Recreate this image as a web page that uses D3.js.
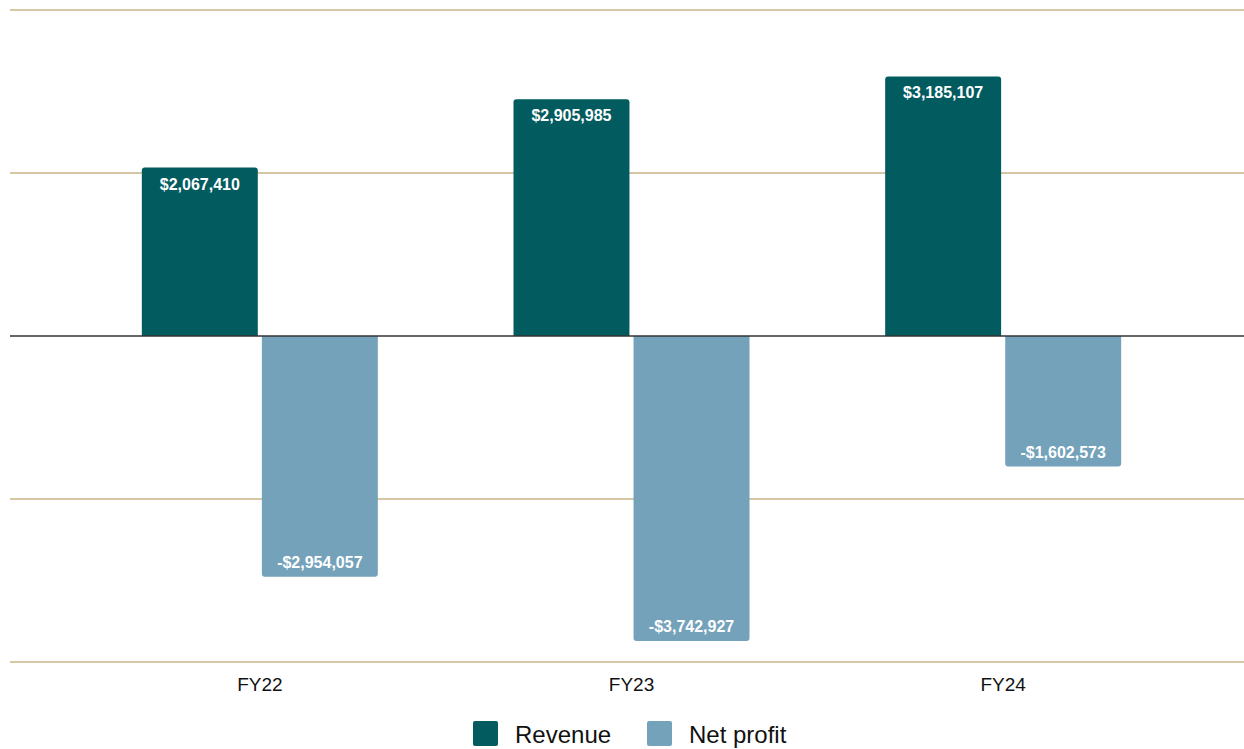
<!DOCTYPE html>
<html>
<head>
<meta charset="utf-8">
<script src="https://cdn.jsdelivr.net/npm/d3@7"></script>
<style>
  html, body { margin: 0; padding: 0; background: #fff; }
  svg { display: block; font-family: "Liberation Sans", Arial, sans-serif; }
</style>
</head>
<body>
<div id="chart"></div>
<script>
// chart data
const years = ['FY22', 'FY23', 'FY24'];
const seriesNames = ['Revenue', 'Net profit'];
const revenue = [2067410, 2905985, 3185107];
const netProfit = [-2954057, -3742927, -1602573];
const gridTicks = [-4000000, -2000000, 0, 2000000, 4000000];

const width = 1244;
const height = 749;
const REV_COLOR = '#025b5f';
const NET_COLOR = '#73a2ba';
const GRID = '#d5c6a6';

const svg = d3.select('#chart').append('svg')
  .attr('width', width)
  .attr('height', height);

const x0 = d3.scaleBand()
  .domain(years)
  .range([74, 1189])
  .paddingInner(0.365)
  .paddingOuter(0.1825);

const x1 = d3.scaleBand()
  .domain(seriesNames)
  .range([0, x0.bandwidth()])
  .paddingInner(0.034);

const y = d3.scaleLinear()
  .domain([-4000000, 4000000])
  .range([662, 10]);

const color = d3.scaleOrdinal().domain(seriesNames).range([REV_COLOR, NET_COLOR]);
const fmt = v => (v < 0 ? '-$' : '$') + d3.format(',')(Math.abs(v));

// gridlines
svg.append('g')
  .selectAll('line')
  .data(gridTicks.filter(d => d !== 0))
  .enter()
  .append('line')
  .attr('x1', 10)
  .attr('x2', width)
  .attr('y1', d => y(d))
  .attr('y2', d => y(d))
  .attr('stroke', GRID)
  .attr('stroke-width', 2);

// bar with rounded end away from the baseline
const barPath = (x, w, v) => {
  const r = 3;
  const y0 = y(0);
  const y1 = y(v);
  if (v >= 0) {
    return `M${x},${y0}V${y1 + r}Q${x},${y1} ${x + r},${y1}H${x + w - r}Q${x + w},${y1} ${x + w},${y1 + r}V${y0}Z`;
  }
  return `M${x},${y0}V${y1 - r}Q${x},${y1} ${x + r},${y1}H${x + w - r}Q${x + w},${y1} ${x + w},${y1 - r}V${y0}Z`;
};

const rows = years.map((yr, i) => ({
  year: yr,
  values: [
    { key: 'Revenue', value: revenue[i] },
    { key: 'Net profit', value: netProfit[i] }
  ]
}));

const groups = svg.append('g')
  .selectAll('g')
  .data(rows)
  .enter()
  .append('g')
  .attr('transform', d => `translate(${x0(d.year)},0)`);

groups.selectAll('path')
  .data(d => d.values)
  .enter()
  .append('path')
  .attr('d', d => barPath(x1(d.key), x1.bandwidth(), d.value))
  .attr('fill', d => color(d.key));

groups.selectAll('text')
  .data(d => d.values)
  .enter()
  .append('text')
  .attr('x', d => x1(d.key) + x1.bandwidth() / 2)
  .attr('y', d => d.value >= 0 ? y(d.value) + 22 : y(d.value) - 9)
  .attr('text-anchor', 'middle')
  .attr('fill', '#fff')
  .attr('font-size', 16)
  .attr('font-weight', 'bold')
  .text(d => fmt(d.value));

// zero line
svg.append('line')
  .attr('x1', 10)
  .attr('x2', width)
  .attr('y1', y(0))
  .attr('y2', y(0))
  .attr('stroke', '#333')
  .attr('stroke-width', 1.5);

// category axis
const xAxis = svg.append('g')
  .attr('transform', `translate(0,${y(-4000000)})`)
  .call(d3.axisBottom(x0).tickSize(0).tickPadding(16));
xAxis.select('.domain').remove();
xAxis.selectAll('text')
  .attr('font-size', 19)
  .attr('font-family', '"Liberation Sans", Arial, sans-serif')
  .attr('fill', '#111');

// legend
const legendX = [473, 647];
const legend = svg.append('g')
  .selectAll('g')
  .data(seriesNames)
  .enter()
  .append('g')
  .attr('transform', (d, i) => `translate(${legendX[i]},721)`);

legend.append('rect')
  .attr('width', 25)
  .attr('height', 25)
  .attr('rx', 2)
  .attr('fill', d => color(d));

legend.append('text')
  .attr('x', 42)
  .attr('y', 22)
  .attr('font-size', 24)
  .attr('fill', '#111')
  .text(d => d);
</script>
</body>
</html>
